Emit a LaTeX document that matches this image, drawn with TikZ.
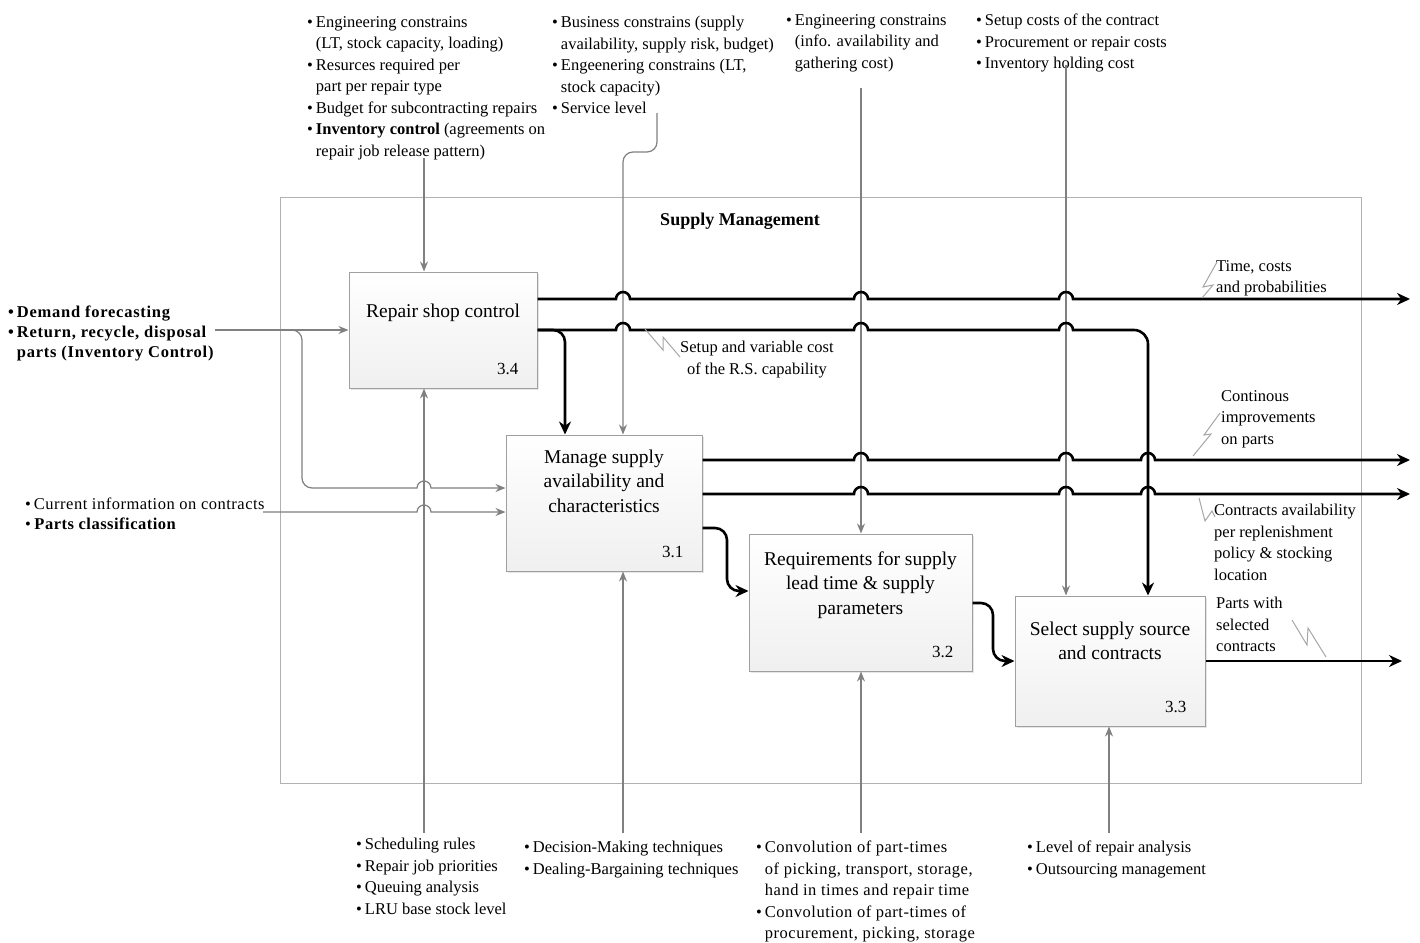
\documentclass[tikz,border=0pt]{standalone}
\usepackage{fontspec}
\setmainfont{Liberation Serif}
\newfontfamily\widefont[LetterSpace=3]{Liberation Serif}
\newfontfamily\widerfont[LetterSpace=4.5]{Liberation Serif}
\usepackage{tikz}
\usetikzlibrary{arrows.meta, positioning, calc, shadows}

% bullet and hanging indent for the note lists
\newcommand{\blt}{\textbullet\hspace{3pt}}
\newcommand{\bcont}{\hphantom{\textbullet\hspace{3pt}}}
% small bridge where a line jumps over a crossing line
\newcommand{\hop}[1]{-- ($(#1)+(-7,0)$) arc[start angle=180, end angle=0, radius=7pt]}

\begin{document}
\begin{tikzpicture}[
  x=1pt, y=-1pt,
  outer/.style={draw=gray!60, line width=0.9pt},
  box/.style={rectangle, draw=gray!75, line width=1pt, top color=white,
              bottom color=gray!12,
              drop shadow={shadow xshift=2pt, shadow yshift=-2pt, opacity=0.2}},
  boxtext/.style={font=\fontsize{19.5}{24.5}\selectfont, align=center, inner sep=0pt},
  boxnum/.style={font=\fontsize{17}{20}\selectfont, inner sep=0pt},
  note/.style={font=\fontsize{16.5}{21.5}\selectfont, align=left, inner sep=0pt,
               anchor=north west},
  flow/.style={line width=2.6pt, -{Stealth[length=13pt,width=12pt]}},
  ctrl/.style={draw=gray, line width=1.2pt, -{Stealth[length=10pt,width=8pt]}},
  zig/.style={draw=gray!70, line width=1pt}
]
  \useasboundingbox (0,0) rectangle (1420,942);

  \draw[outer] (280,197) rectangle (1361,783);
  \node[font=\bfseries\fontsize{18}{22}\selectfont] (title) at (740,221) {Supply Management};

  % activity boxes
  \node[box, minimum width=188, minimum height=116] (rsc) at (443,330) {};
  \node[box, minimum width=196, minimum height=136] (mng) at (604,503) {};
  \node[box, minimum width=223, minimum height=137] (req) at (860.5,602.5) {};
  \node[box, minimum width=190, minimum height=130] (sel) at (1110,661) {};

  \node[boxtext, below=32pt of rsc.north] (rsc-t) {Repair shop control};
  \node[boxtext, below=15pt of mng.north] (mng-t) {Manage supply\\availability and\\characteristics};
  \node[boxtext, below=18pt of req.north] (req-t) {Requirements for supply\\lead time \& supply\\parameters};
  \node[boxtext, below=26pt of sel.north] (sel-t) {Select supply source\\and contracts};

  \node[boxnum, above left=14pt and 19pt of rsc.south east] (rsc-n) {3.4};
  \node[boxnum, above left=14pt and 19pt of mng.south east] (mng-n) {3.1};
  \node[boxnum, above left=14pt and 19pt of req.south east] (req-n) {3.2};
  \node[boxnum, above left=14pt and 19pt of sel.south east] (sel-n) {3.3};

  % controls (top)
  \node[note] (ctl-a) at (307,16) {\blt Engineering constrains\\
    \bcont (LT, stock capacity, loading)\\
    \blt Resurces required per\\
    \bcont part per repair type\\
    \blt Budget for subcontracting repairs\\
    \blt \textbf{Inventory control} (agreements on\\
    \bcont repair job release pattern)};
  \node[note] (ctl-b) at (552,16) {\blt Business constrains (supply\\
    \bcont availability, supply risk, budget)\\
    \blt Engeenering constrains (LT,\\
    \bcont stock capacity)\\
    \blt Service level};
  \node[note] (ctl-c) at (786,14) {\blt Engineering constrains\\
    \bcont (info. availability and\\
    \bcont gathering cost)};
  \node[note] (ctl-d) at (976,14) {\blt Setup costs of the contract\\
    \blt Procurement or repair costs\\
    \blt Inventory holding cost};

  % inputs (left)
  \node[note, font=\widerfont\bfseries\fontsize{16.5}{20}\selectfont] (in-a) at (8,306) {\blt Demand forecasting\\
    \blt Return, recycle, disposal\\
    \bcont parts (Inventory Control)};
  \node[note, font=\widefont\fontsize{16.5}{20}\selectfont] (in-b) at (25,498) {\blt Current information on contracts\\
    \blt \textbf{Parts classification}};

  % mechanisms (bottom)
  \node[note] (mec-a) at (356,838) {\blt Scheduling rules\\
    \blt Repair job priorities\\
    \blt Queuing analysis\\
    \blt LRU base stock level};
  \node[note] (mec-b) at (524,841) {\blt Decision-Making techniques\\
    \blt Dealing-Bargaining techniques};
  \node[note, font=\widefont\fontsize{16.5}{21.5}\selectfont] (mec-c) at (756,841) {\blt Convolution of part-times\\
    \bcont of picking, transport, storage,\\
    \bcont hand in times and repair time\\
    \blt Convolution of part-times of\\
    \bcont procurement, picking, storage};
  \node[note] (mec-d) at (1027,841) {\blt Level of repair analysis\\
    \blt Outsourcing management};

  % output labels
  \node[note] (tcp) at (1216,260) {Time, costs\\and probabilities};
  \node[note] (cip) at (1221,390) {Continous\\improvements\\on parts};
  \node[note] (cav) at (1214,504) {Contracts availability\\per replenishment\\policy \& stocking\\location};
  \node[note] (pwc) at (1216,597) {Parts with\\selected\\contracts};
  \node[note, align=center] (svc) at (680,341) {Setup and variable cost\\of the R.S. capability};

  % line ends and bends
  \coordinate (c1) at (424,158);
  \coordinate (c2) at (657,113);
  \coordinate (c2b) at (623,152);
  \coordinate (c3) at (861,88);
  \coordinate (c4) at (1066,65);
  \coordinate (m1) at (424,833);
  \coordinate (m2) at (623,833);
  \coordinate (m3) at (861,833);
  \coordinate (m4) at (1109,833);
  \coordinate (i1) at (215,330);
  \coordinate (i1b) at (302,488);
  \coordinate (i2) at (263,512);
  \coordinate (k1) at (1148,330);
  \coordinate (k2) at (565,330);
  \coordinate (k3) at (727,528);
  \coordinate (k4) at (727,591);
  \coordinate (k5) at (993,603);
  \coordinate (k6) at (993,661);
  \coordinate (o1) at (1410,299);
  \coordinate (o3) at (1410,460);
  \coordinate (o4) at (1410,494);
  \coordinate (o7) at (1402,661);

  % gray control, input and mechanism arrows
  \draw[ctrl] (c1) -- (c1 |- rsc.north);
  \draw[ctrl, rounded corners=10pt] (c2) |- (c2b) -- (c2b |- mng.north);
  \draw[ctrl] (c3) -- (c3 |- req.north);
  \draw[ctrl] (c4) -- (c4 |- sel.north);
  \draw[ctrl] (m1) -- (m1 |- rsc.south);
  \draw[ctrl] (m2) -- (m2 |- mng.south);
  \draw[ctrl] (m3) -- (m3 |- req.south);
  \draw[ctrl] (m4) -- (m4 |- sel.south);
  \draw[ctrl] (i1) -- (rsc.west);
  \draw[ctrl, rounded corners=10pt] (i1) -| (i1b) [sharp corners] \hop{c1 |- i1b} -- (mng.west |- i1b);
  \draw[ctrl] (i2) \hop{c1 |- i2} -- (mng.west |- i2);

  % black outputs
  \draw[flow] (rsc.east |- o1) \hop{c2b |- o1} \hop{c3 |- o1} \hop{c4 |- o1} -- (o1);
  \draw[flow] (rsc.east) \hop{c2b |- rsc.east} \hop{c3 |- rsc.east} \hop{c4 |- rsc.east}
    [rounded corners=14pt] -- (k1) -- (k1 |- sel.north);
  \draw[flow, rounded corners=12pt] (rsc.east) -- (k2) -- (k2 |- mng.north);
  \draw[flow] (mng.east |- o3) \hop{c3 |- o3} \hop{c4 |- o3} \hop{k1 |- o3} -- (o3);
  \draw[flow] (mng.east |- o4) \hop{c3 |- o4} \hop{c4 |- o4} \hop{k1 |- o4} -- (o4);
  \draw[flow, rounded corners=12pt] (mng.east |- k3) -- (k3) -- (k4) -- (req.west |- k4);
  \draw[flow, rounded corners=12pt] (req.east |- k5) -- (k5) -- (k6) -- (sel.west);
  \draw[flow] (sel.east) -- (o7);

  % label leaders
  \draw[zig] ([shift={(1,2)}]tcp.north west) -- ++(-14,25) -- ++(10,-2) -- ++(-11,13);
  \draw[zig] ([shift={(-1,23)}]cip.north west) -- ++(-16,22) -- ++(7,-1) -- ++(-18,22);
  \draw[zig] ([shift={(-15,-6)}]cav.north west) -- ++(6,23) -- ++(7,-10) -- ++(3,6);
  \draw[zig] ([shift={(76,23)}]pwc.north west) -- ++(15,25) -- ++(1,-17) -- ++(18,29);
  \draw[zig] ([shift={(-35,-12)}]svc.north west) -- ++(18,21) -- ++(0,-13) -- ++(17,20);
\end{tikzpicture}
\end{document}
